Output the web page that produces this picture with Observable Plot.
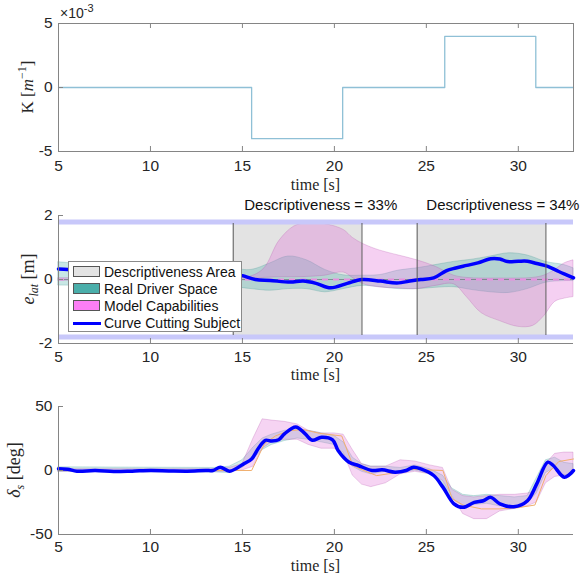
<!DOCTYPE html>
<html><head><meta charset="utf-8">
<script src="https://cdn.jsdelivr.net/npm/d3@7"></script>
<script src="https://cdn.jsdelivr.net/npm/@observablehq/plot@0.6"></script>
<style>
body{margin:0;background:#fff;}
#wrap{position:relative;width:581px;height:578px;overflow:hidden;background:#fff;font-family:"Liberation Sans",Arial,sans-serif;}
#wrap svg{position:absolute;left:0;display:block;overflow:visible;}
.legend{position:absolute;left:68px;top:261px;width:174px;height:71px;background:#fff;border:1px solid #8a8a8a;box-sizing:border-box;}
.legend .row{position:absolute;left:0;height:14px;font-size:14px;line-height:14px;color:#111;white-space:nowrap;}
.legend .sw{position:absolute;left:4px;top:1px;width:27px;height:11px;box-sizing:border-box;border:1px solid #555;}
.legend .ln{position:absolute;left:4px;top:6px;width:28px;height:3px;background:#0000ff;}
.legend .lab{position:absolute;left:35px;top:0;}
</style></head><body><div id="wrap"></div>
<script>
// ---------- shared axes ----------
const xDomain = [5, 33];
const xTicks = [5, 10, 15, 20, 25, 30];

// ---------- panel 1: curvature K (x 10^-3 m^-1) ----------
const kTime  = [5, 15.5, 20.45, 26, 30.95, 33];
const kValue = [0, -4, 0, 4, 0, 0];
const kDomain = [-5, 5];
const kTicks = [-5, 0, 5];

// ---------- panel 2: lateral error e_lat [m] ----------
const eDomain = [-2, 2];
const eTicks = [-2, 0, 2];
const laneBounds = [1.8, -1.8];
const areaStart = [14.5, 24.5];
const areaEnd   = [21.5, 31.5];
const areaTop = 1.75, areaBottom = -1.75;
const descLabelX = [15.1, 25.0];
const descLabels = ["Descriptiveness = 33%", "Descriptiveness = 34%"];
const refLine = [0];

const subjT = [5, 5.5, 6, 7, 8, 9, 10, 11, 12, 13, 14, 14.5, 15, 15.7, 16.5, 17.6, 18.3, 19, 19.8, 20.7, 21.5, 22.5, 23.4, 24.2, 24.7, 25.4, 26.1, 26.6, 27.2, 27.8, 28.5, 29, 29.4, 30, 30.5, 31, 31.6, 32.2, 33];
const subjE = [0.33, 0.31, 0.28, 0.24, 0.2, 0.18, 0.17, 0.16, 0.17, 0.2, 0.22, 0.19, 0.12, 0.0, -0.03, -0.08, -0.05, -0.12, -0.26, -0.12, 0.0, -0.05, -0.11, -0.04, 0.0, 0.05, 0.28, 0.36, 0.44, 0.52, 0.65, 0.64, 0.56, 0.57, 0.57, 0.5, 0.41, 0.25, 0.05];

const realT  = [5, 7, 9, 11, 13, 14.5, 15.5, 16.5, 17.5, 18.5, 19.5, 20.5, 21.5, 22.5, 23.5, 24.5, 25.5, 26.5, 27.5, 28.5, 29.5, 30.5, 31.5, 32.5, 33];
const realHi = [0.54, 0.45, 0.4, 0.38, 0.36, 0.33, 0.3, 0.5, 0.72, 0.6, 0.3, 0.13, 0.12, 0.14, 0.28, 0.35, 0.45, 0.55, 0.62, 0.72, 0.82, 0.75, 0.55, 0.45, 0.35];
const realLo = [-0.19, -0.2, -0.2, -0.2, -0.22, -0.24, -0.3, -0.35, -0.3, -0.3, -0.4, -0.3, -0.2, -0.24, -0.3, -0.3, -0.26, -0.24, -0.33, -0.4, -0.42, -0.3, -0.1, -0.05, -0.05];

const modelT  = [5, 9, 13, 14.5, 15.5, 16.2, 17, 17.8, 18.5, 19.5, 20.5, 21.0, 21.6, 22.5, 23.5, 24.5, 25.5, 26.5, 27.2, 28, 29, 30, 30.8, 31.4, 32, 32.5, 33];
const modelHi = [0.04, 0.04, 0.04, 0.05, 0.1, 0.35, 1.2, 1.65, 1.76, 1.73, 1.55, 1.3, 1.1, 0.9, 0.75, 0.6, 0.4, 0.12, 0.05, 0.03, 0.03, 0.03, 0.05, 0.12, 0.3, 0.5, 0.6];
const modelLo = [-0.04, -0.04, -0.04, -0.05, 0.0, 0.05, 0.07, 0.07, 0.08, 0.12, 0.22, 0.05, -0.15, -0.25, -0.28, -0.3, -0.2, -0.15, -0.55, -1.05, -1.3, -1.48, -1.45, -1.15, -0.7, -0.6, -0.55];

// ---------- panel 3: steering angle delta_s [deg] ----------
const dDomain = [-50, 50];
const dTicks = [-50, 0, 50];
const steerT = [5, 5.5, 6, 7, 8, 9, 10, 11, 12, 13, 13.4, 13.8, 14.3, 15.1, 15.5, 15.9, 16.25, 16.6, 16.97, 17.3, 17.9, 18.4, 18.8, 19.3, 19.9, 20.2, 20.8, 21.3, 22.05, 22.6, 23.3, 23.9, 24.3, 24.7, 25.4, 25.9, 26.5, 27, 27.6, 28.1, 28.5, 29, 29.75, 30.5, 31, 31.6, 31.9, 32.5, 33];
const steerV = [1.3, 1.0, -0.5, 0, -0.8, -0.5, 0, -0.3, -0.5, 0, 0, 2.6, -0.5, 5.5, 9, 18, 23.6, 23, 24, 28.8, 34, 28.8, 23.6, 26, 24, 15.7, 6.5, 3.9, 0, 0.5, -1.3, 0, 2.6, 1.3, -3.9, -13, -26, -28.8, -24.9, -23.6, -21, -26, -28.3, -23.6, -10.5, 6.5, 3.9, -5.2, 0];

const bandT  = [5, 13.5, 14.3, 15.0, 15.6, 16.1, 16.6, 17.3, 18.0, 18.6, 19.3, 20.0, 20.5, 21.0, 21.5, 22.0, 22.8, 23.6, 24.4, 25.2, 25.9, 26.4, 27.0, 27.6, 28.3, 29.0, 29.8, 30.5, 31.0, 31.5, 32.0, 32.5, 33];
const sRealHi = [2.5, 2, 3, 8, 18, 25, 28, 31, 32, 31, 29, 27, 22, 10, 5, 3, 3, 2, 4, 1, -4, -14, -19, -20, -19, -20, -21, -20, -6, 8, 10, 6, 5];
const sRealLo = [-1, -1.5, -2, 2, 9, 16, 20, 23, 25, 24, 22, 20, 10, 3, -1, -3, -1, -2, 0, -3, -10, -22, -28, -27, -26, -28, -28, -26, -18, -2, 2, -4, -3];
const sModelHi = [1, 1, 2, 5, 25, 40, 39, 38, 36, 31, 29, 29, 28, 16, 5, 3, 3, 8, 7, 4, 2, -15, -20, -21, -20, -19, -19, -18, -16, 5, 13, 14, 14];
const sModelLo = [-1, -1, -1, 0, 3, 17, 22, 24, 24, 20, 17, 17, 14, -4, -11, -13, -10, -3, -1, -3, -8, -20, -34, -38, -38, -32, -30, -28, -25, -10, -5, -4, -3];

const refT = [5, 15.5, 16.2, 16.8, 17.5, 18.3, 19.2, 20.4, 21.0, 21.6, 22.3, 23.2, 24.2, 25.9, 26.4, 27.0, 28.0, 29.0, 30.0, 30.9, 31.5, 32.2, 33];
const refV = [0, 0, 21, 27, 31, 32, 29, 27, 4, 0, -4, -2, 1, 0, -22, -27, -30, -30, -29, -27, -4, 7, 9];

// ---------- styles ----------
const axisColor = "#858585";
const textColor = "#262626";
const tealFill = "#4aaeaa", pinkFill = "#e070d8";
const fmt = d => String(d);
const W = 581, ML = 58, MR = 8, PH = 128, PW = W - ML - MR;
const baseStyle = {fontFamily: "'Liberation Sans', Arial, sans-serif", fontSize: "15.5px", color: textColor, background: "transparent", overflow: "visible"};

const zip = (t, ...cols) => t.map((v, i) => { const o = {t: v}; cols.forEach(([k, a]) => o[k] = a[i]); return o; });
const kData = zip(kTime, ["k", kValue]);
const subjData = zip(subjT, ["e", subjE]);
const realData = zip(realT, ["lo", realLo], ["hi", realHi]);
const modelData = zip(modelT, ["lo", modelLo], ["hi", modelHi]);
const areas = areaStart.map((s, i) => ({x1: s, x2: areaEnd[i]}));
const areaEdges = areaStart.concat(areaEnd);
const descData = descLabelX.map((x, i) => ({x, text: descLabels[i]}));
const steerData = zip(steerT, ["v", steerV]);
const sRealData = zip(bandT, ["lo", sRealLo], ["hi", sRealHi]);
const sModelData = zip(bandT, ["lo", sModelLo], ["hi", sModelHi]);
const refData = zip(refT, ["v", refV]);

function inwardTicks(yTicks, top) {
  const m = [
    Plot.ruleX(xTicks, {x: d => d, insetTop: PH - 5, stroke: axisColor}),
    Plot.ruleY(yTicks, {y: d => d, insetRight: PW - 5, stroke: axisColor})
  ];
  if (top) m.push(Plot.ruleX(xTicks, {x: d => d, insetBottom: PH - 5, stroke: axisColor}));
  return m;
}
function axes(yTicks, padX) {
  return [
    Plot.axisX({ticks: xTicks, tickSize: 0, tickPadding: padX, tickFormat: fmt, label: null}),
    Plot.axisY({ticks: yTicks, tickSize: 0, tickPadding: 6, tickFormat: fmt, label: null})
  ];
}

// Panel 1
const p1 = Plot.plot({
  width: W, height: 190, marginLeft: ML, marginRight: MR, marginTop: 23, marginBottom: 39,
  x: {domain: xDomain, label: null}, y: {domain: kDomain, label: null},
  style: baseStyle,
  marks: [
    Plot.line(kData, {x: "t", y: "k", curve: "step-after", stroke: "#8fc0d6", strokeWidth: 1.3}),
    Plot.frame({stroke: axisColor}),
    ...inwardTicks(kTicks, true),
    ...axes(kTicks, 8)
  ]
});

// Panel 2
const p2 = Plot.plot({
  width: W, height: 190, marginLeft: ML, marginRight: MR, marginTop: 25, marginBottom: 37,
  x: {domain: xDomain, label: null}, y: {domain: eDomain, label: null},
  style: baseStyle,
  marks: [
    Plot.rect(areas, {x1: "x1", x2: "x2", y1: areaBottom, y2: areaTop, fill: "#e3e3e3"}),
    Plot.areaY(realData, {x: "t", y1: "lo", y2: "hi", fill: tealFill, fillOpacity: 0.3, stroke: "#2f8f8a", strokeOpacity: 0.25, curve: "catmull-rom"}),
    Plot.areaY(modelData, {x: "t", y1: "lo", y2: "hi", fill: pinkFill, fillOpacity: 0.33, stroke: "#b04aa8", strokeOpacity: 0.25, curve: "catmull-rom"}),
    Plot.ruleY(refLine, {y: d => d, stroke: "#6f7f7f", strokeWidth: 0.8}),
    Plot.ruleY(refLine, {y: d => d, stroke: "#e890e0", strokeWidth: 2, strokeDasharray: "6,5"}),
    Plot.line(subjData, {x: "t", y: "e", stroke: "#0000ff", strokeWidth: 3.5, curve: "catmull-rom"}),
    Plot.ruleY(laneBounds, {y: d => d, stroke: "#c8c8fa", strokeWidth: 5}),
    Plot.ruleX(areaEdges, {x: d => d, y1: areaBottom, y2: areaTop, stroke: "#5a5a5a", strokeWidth: 1}),
    Plot.ruleX([xDomain[0]], {x: d => d, stroke: axisColor}),
    Plot.ruleY([eDomain[0]], {y: d => d, stroke: axisColor}),
    ...inwardTicks(eTicks, false),
    ...axes(eTicks, 7),
    Plot.text(descData, {x: "x", text: "text", frameAnchor: "top", lineAnchor: "bottom", textAnchor: "start", dy: -6, fontSize: 15, fill: "#111"})
  ]
});

// Panel 3
const p3 = Plot.plot({
  width: W, height: 198, marginLeft: ML, marginRight: MR, marginTop: 26, marginBottom: 44,
  x: {domain: xDomain, label: null}, y: {domain: dDomain, label: null},
  style: baseStyle,
  marks: [
    Plot.areaY(sRealData, {x: "t", y1: "lo", y2: "hi", fill: tealFill, fillOpacity: 0.25, stroke: "#2f8f8a", strokeOpacity: 0.25}),
    Plot.areaY(sModelData, {x: "t", y1: "lo", y2: "hi", fill: pinkFill, fillOpacity: 0.3, stroke: "#b04aa8", strokeOpacity: 0.25}),
    Plot.line(refData, {x: "t", y: "v", stroke: "#f0b070", strokeWidth: 1}),
    Plot.line(steerData, {x: "t", y: "v", stroke: "#0000ff", strokeWidth: 3.5, curve: "catmull-rom"}),
    Plot.ruleX([xDomain[0]], {x: d => d, stroke: axisColor}),
    Plot.ruleY([dDomain[0]], {y: d => d, stroke: axisColor}),
    ...inwardTicks(dTicks, false),
    ...axes(dTicks, 6)
  ]
});

const wrap = document.getElementById("wrap");
[[p1, 0], [p2, 190], [p3, 380]].forEach(([p, top]) => { p.style.top = top + "px"; wrap.appendChild(p); });

const serif = "'Liberation Serif', 'DejaVu Serif', serif";
function xLabel(svg, y) {
  d3.select(svg).append("text").attr("x", ML + PW / 2).attr("y", y).attr("text-anchor", "middle")
    .attr("font-family", serif).attr("font-size", 16).attr("fill", textColor).text("time [s]");
}
xLabel(p1, 190); xLabel(p2, 190); xLabel(p3, 191);

// y labels
{
  const t = d3.select(p1).append("text").attr("transform", "translate(33,87) rotate(-90)").attr("text-anchor", "middle")
    .attr("font-family", serif).attr("font-size", 17).attr("fill", textColor);
  t.append("tspan").text("K [");
  t.append("tspan").attr("font-style", "italic").text("m");
  t.append("tspan").attr("dy", -7).attr("font-size", 12).text("\u22121");
  t.append("tspan").attr("dy", 7).text("]");
  const s = d3.select(p1).append("text").attr("x", 60).attr("y", 18).attr("text-anchor", "start")
    .attr("font-size", 14).attr("fill", textColor);
  s.append("tspan").text("\u00d710");
  s.append("tspan").attr("dy", -6).attr("font-size", 11).text("-3");
}
{
  const t = d3.select(p2).append("text").attr("transform", "translate(34,89) rotate(-90)").attr("text-anchor", "middle")
    .attr("font-family", serif).attr("font-size", 18).attr("fill", textColor);
  t.append("tspan").attr("font-style", "italic").text("e");
  t.append("tspan").attr("dy", 4).attr("font-size", 12).attr("font-style", "italic").text("lat");
  t.append("tspan").attr("dy", -4).text(" [m]");
}
{
  const t = d3.select(p3).append("text").attr("transform", "translate(20,90) rotate(-90)").attr("text-anchor", "middle")
    .attr("font-family", serif).attr("font-size", 18).attr("fill", textColor);
  t.append("tspan").attr("font-style", "italic").text("\u03b4");
  t.append("tspan").attr("dy", 4).attr("font-size", 12).attr("font-style", "italic").text("s");
  t.append("tspan").attr("dy", -4).text(" [deg]");
}

// legend
const legendItems = [
  {label: "Descriptiveness Area", type: "sw", color: "#e3e3e3"},
  {label: "Real Driver Space", type: "sw", color: "#4aaeaa"},
  {label: "Model Capabilities", type: "sw", color: "#fb7ef5"},
  {label: "Curve Cutting Subject", type: "ln", color: "#0000ff"}
];
const leg = document.createElement("div"); leg.className = "legend";
legendItems.forEach((it, i) => {
  const r = document.createElement("div"); r.className = "row"; r.style.top = (3 + 16.9 * i) + "px";
  const m = document.createElement("div"); m.className = it.type; m.style.background = it.color;
  const l = document.createElement("div"); l.className = "lab"; l.textContent = it.label;
  r.appendChild(m); r.appendChild(l); leg.appendChild(r);
});
wrap.appendChild(leg);
</script></body></html>
